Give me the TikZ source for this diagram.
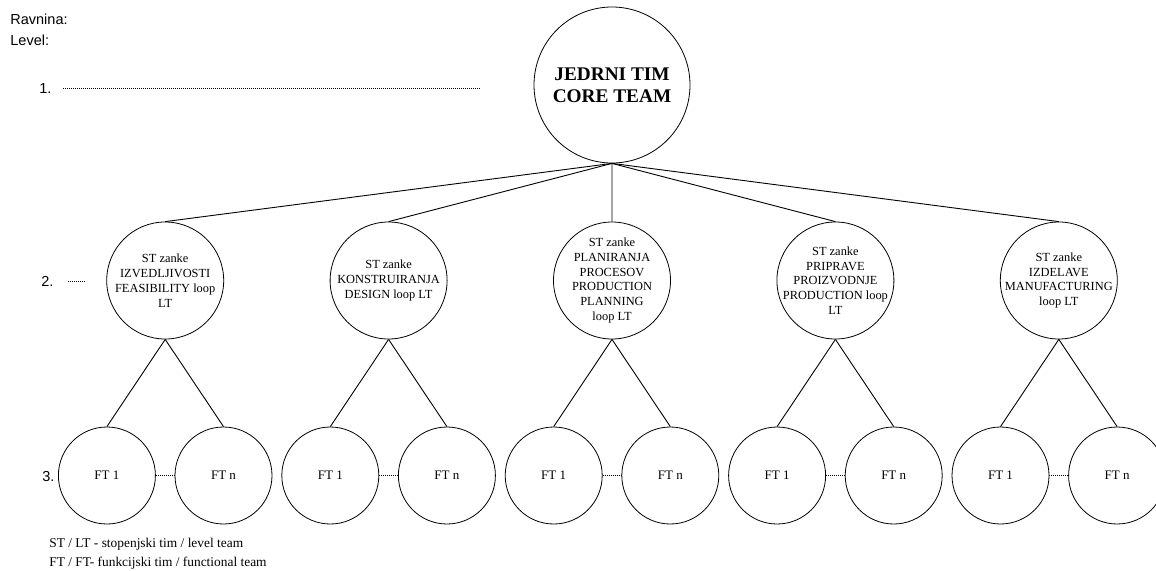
\documentclass[tikz,border=0pt]{standalone}
\usepackage{fontspec}
\setmainfont{Liberation Serif}
\newfontfamily\labelfont{Liberation Sans}
\begin{document}
\begin{tikzpicture}[x=1pt,y=-1pt,
  line width=0.8pt,
  core/.style={circle,draw,minimum size=156pt,inner sep=0pt},
  lvltwo/.style={circle,draw,minimum size=117pt,inner sep=0pt},
  lvlthree/.style={circle,draw,minimum size=97pt,inner sep=0pt,
    font=\fontsize{13}{15}\selectfont},
  looptxt/.style={align=center,inner sep=0pt,
    font=\fontsize{12.4}{14.8}\selectfont},
  lvllabel/.style={anchor=base west,inner sep=0pt,
    font=\labelfont\fontsize{14.5}{17}\selectfont},
  legend/.style={anchor=base west,inner sep=0pt,
    font=\fontsize{13.4}{16}\selectfont},
  dots/.style={line width=0.6pt,dash pattern=on 0.8pt off 1.2pt},
  link/.style={line width=0.9pt}]
\useasboundingbox (0,0) rectangle (1156,570);

% level labels on the left
\node[lvllabel] (rav) at (10,24) {Ravnina:};
\node[lvllabel] (lev) at (10,45.5) {Level:};
\node[lvllabel] (one) at (39,93) {1.};
\node[lvllabel] (two) at (41,286) {2.};
\node[lvllabel] (three) at (42,481) {3.};
\coordinate (d1a) at (63,88);
\coordinate (d1b) at (480,88);
\coordinate (d2a) at (68,281.5);
\coordinate (d2b) at (86,281.5);
\draw[dots] (d1a) -- (d1b);
\draw[dots] (d2a) -- (d2b);

% core team
\node[core] (core) at (612,85) {};
\node[align=center,inner sep=0pt,font=\bfseries\fontsize{19.3}{22}\selectfont]
  (coret) at (core) {JEDRNI TIM\\CORE TEAM};

% level teams of the loops
\foreach \i/\txt in {
  0/{ST zanke\\IZVEDLJIVOSTI\\FEASIBILITY loop\\LT},
  1/{ST zanke\\KONSTRUIRANJA\\DESIGN loop LT},
  2/{ST zanke\\PLANIRANJA\\PROCESOV\\PRODUCTION\\PLANNING\\loop LT},
  3/{ST zanke\\PRIPRAVE\\PROIZVODNJE\\PRODUCTION loop\\LT},
  4/{ST zanke\\IZDELAVE\\MANUFACTURING\\loop LT}} {
  \pgfmathsetmacro{\cx}{165.2+223.4*\i}
  \node[lvltwo] (s\i) at (\cx,280.5) {};
  \node[looptxt] (st\i) at (s\i) {\txt};
  \node[lvlthree] (fa\i) at (\cx-58.3,475.5) {FT 1};
  \node[lvlthree] (fb\i) at (\cx+58.3,475.5) {FT n};
  \draw[link] (core.south) -- (s\i.north);
  \draw[link] (s\i.south) -- (fa\i.north);
  \draw[link] (s\i.south) -- (fb\i.north);
  \draw[dots] (fa\i.east) -- (fb\i.west);
}

% legend
\node[legend] (leg1) at (49,547) {ST / LT - stopenjski tim / level team};
\node[legend] (leg2) at (49,566) {FT / FT- funkcijski tim / functional team};
\end{tikzpicture}
\end{document}
